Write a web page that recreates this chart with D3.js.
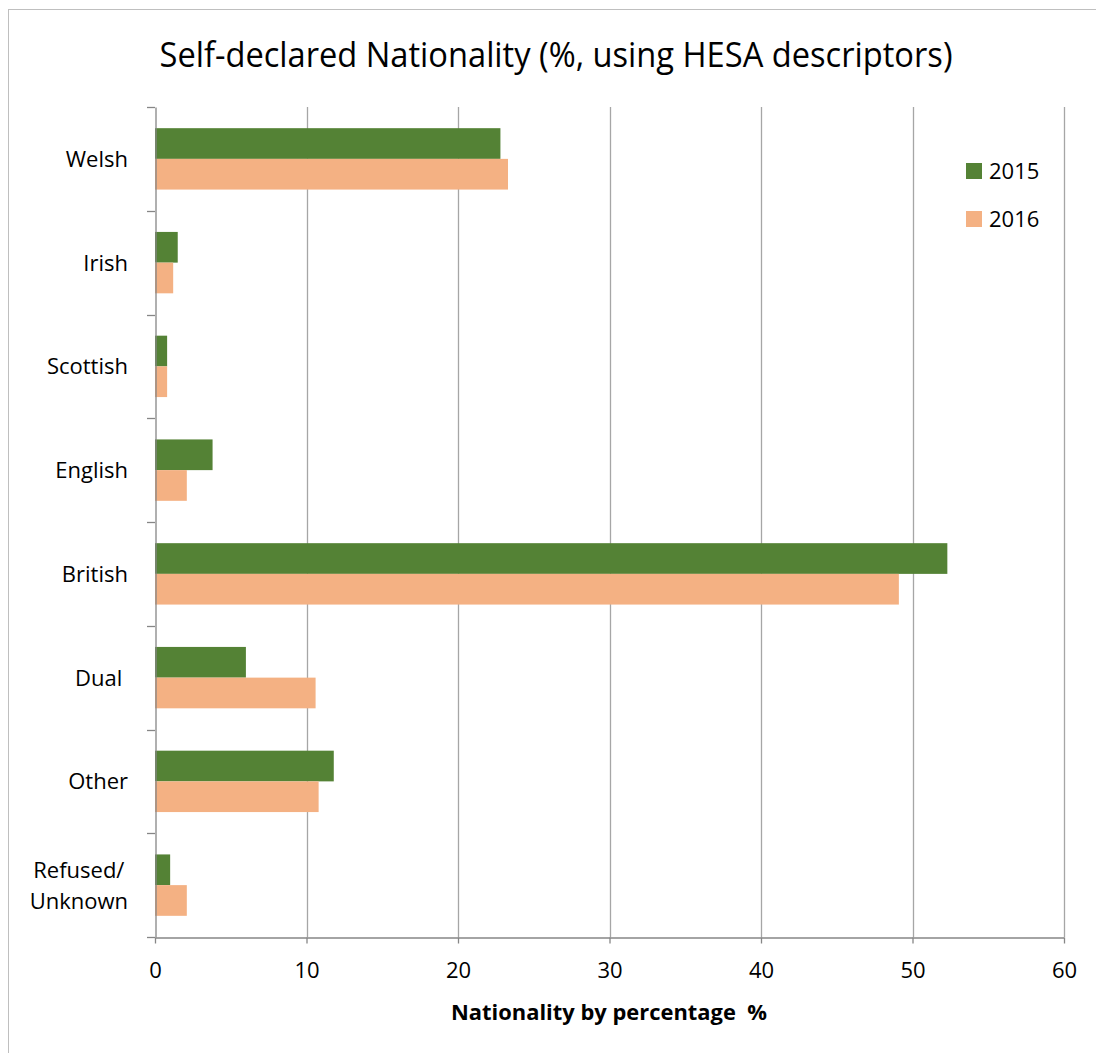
<!DOCTYPE html>
<html>
<head>
<meta charset="utf-8">
<script src="https://cdn.jsdelivr.net/npm/d3@7"></script>
<style>
  html, body { margin: 0; padding: 0; background: #fff; overflow: hidden; }
  svg { display: block; }
  text { font-family: "Open Sans", "Noto Sans", sans-serif; fill: #000; }
</style>
</head>
<body>
<svg id="chart" width="1096" height="1053"></svg>
<script>
// Self-declared nationality, percentage of respondents
const categories = ["Welsh", "Irish", "Scottish", "English", "British", "Dual ", "Other", "Refused/\nUnknown"];
const seriesNames = ["2015", "2016"];
const values2015 = [22.8, 1.5, 0.8, 3.8, 52.3, 6.0, 11.8, 1.0];
const values2016 = [23.3, 1.2, 0.8, 2.1, 49.1, 10.6, 10.8, 2.1];
const xTicks = [0, 10, 20, 30, 40, 50, 60];
const colors = ["#548235", "#F4B183"];

const svg = d3.select("#chart");

// Chart area frame
svg.append("rect")
  .attr("x", 8.5).attr("y", 9.5)
  .attr("width", 1200).attr("height", 1200)
  .attr("fill", "#fff").attr("stroke", "#BFBFBF").attr("stroke-width", 1);

const plot = { left: 155, right: 1064, top: 107, bottom: 937 };

const x = d3.scaleLinear().domain([0, 60]).range([plot.left, plot.right]);
const y = d3.scaleBand().domain(categories).range([plot.top, plot.bottom]).padding(0);
const yInner = d3.scaleBand().domain(seriesNames).range([0, y.bandwidth()])
  .paddingInner(0).paddingOuter(0.69);

// Vertical gridlines
svg.append("g").selectAll("line")
  .data(xTicks.filter(t => t > 0))
  .join("line")
  .attr("x1", d => Math.round(x(d)) + 0.5).attr("x2", d => Math.round(x(d)) + 0.5)
  .attr("y1", plot.top).attr("y2", plot.bottom)
  .attr("stroke", "#A6A6A6").attr("stroke-width", 1.3);

// Bars
const rows = categories.map((c, i) => ({ cat: c, vals: [values2015[i], values2016[i]] }));
const groups = svg.append("g").selectAll("g")
  .data(rows).join("g")
  .attr("transform", d => `translate(0,${y(d.cat)})`);
groups.selectAll("rect")
  .data(d => d.vals.map((v, j) => ({ v, s: seriesNames[j], j })))
  .join("rect")
  .attr("x", x(0))
  .attr("y", d => yInner(d.s))
  .attr("width", d => x(d.v) - x(0))
  .attr("height", yInner.bandwidth())
  .attr("fill", d => colors[d.j]);

// Category axis (left)
const yAxis = d3.axisLeft(y).tickValues([]).tickSizeOuter(0);
const yAxisG = svg.append("g").attr("transform", `translate(${plot.left + 0.5},0)`).call(yAxis);
yAxisG.select(".domain").attr("stroke", "#868686").attr("stroke-width", 1.3);
const boundaries = categories.map(c => y(c)).concat([plot.bottom]);
svg.append("g").selectAll("line").data(boundaries).join("line")
  .attr("x1", plot.left - 8).attr("x2", plot.left)
  .attr("y1", d => Math.round(d) + 0.5).attr("y2", d => Math.round(d) + 0.5)
  .attr("stroke", "#868686").attr("stroke-width", 1.3);

// Category labels, multi-line labels centred on their widest line
const labelRight = 128;
categories.forEach(c => {
  const lines = c.split("\n");
  const cy = y(c) + y.bandwidth() / 2;
  const t = svg.append("text")
    .attr("font-size", 22)
    .style("white-space", "pre");
  lines.forEach((ln, k) => {
    t.append("tspan").attr("x", 0)
      .attr("y", cy + 8 + (k - (lines.length - 1) / 2) * 31)
      .text(ln);
  });
  if (lines.length === 1) {
    t.attr("text-anchor", "end").selectAll("tspan").attr("x", labelRight);
  } else {
    const w = d3.max(t.selectAll("tspan").nodes(), n => n.getComputedTextLength());
    t.attr("text-anchor", "middle").selectAll("tspan").attr("x", labelRight - w / 2);
  }
});

// Value axis (bottom)
const xAxis = d3.axisBottom(x).tickValues(xTicks).tickSize(6).tickSizeOuter(0).tickPadding(19);
const xAxisG = svg.append("g").attr("transform", `translate(0,${plot.bottom + 0.5})`).call(xAxis);
xAxisG.select(".domain").attr("stroke", "#868686").attr("stroke-width", 1.3);
xAxisG.selectAll(".tick line").attr("stroke", "#868686").attr("stroke-width", 1.3);
xAxisG.selectAll(".tick text")
  .attr("font-size", 22).attr("font-family", "\"Open Sans\", sans-serif").attr("fill", "#000");

// Axis title
svg.append("text")
  .attr("x", 609).attr("y", 1020)
  .attr("text-anchor", "middle")
  .attr("font-size", 21).attr("font-weight", "bold")
  .style("white-space", "pre")
  .attr("textLength", 316).attr("lengthAdjust", "spacingAndGlyphs")
  .text("Nationality by percentage  %");

// Chart title
svg.append("text")
  .attr("x", 556).attr("y", 67)
  .attr("text-anchor", "middle")
  .attr("font-size", 34)
  .attr("textLength", 793).attr("lengthAdjust", "spacingAndGlyphs")
  .text("Self-declared Nationality (%, using HESA descriptors)");

// Legend
const legend = svg.append("g").attr("transform", "translate(966,163)");
seriesNames.forEach((s, i) => {
  const g = legend.append("g").attr("transform", `translate(0,${i * 48})`);
  g.append("rect").attr("width", 16).attr("height", 16).attr("fill", colors[i]);
  g.append("text").attr("x", 23).attr("y", 15.5).attr("font-size", 22).text(s);
});
</script>
</body>
</html>
